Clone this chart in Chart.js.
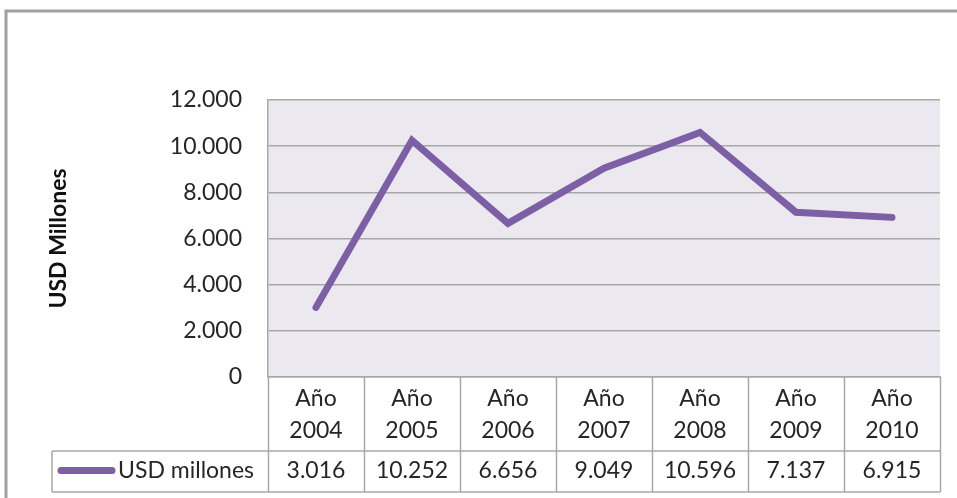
<!DOCTYPE html>
<html>
<head>
<meta charset="utf-8">
<script src="https://cdn.jsdelivr.net/npm/chart.js@4.4.1/dist/chart.umd.min.js"></script>
<style>
  html, body { margin: 0; padding: 0; background: #fff; }
  canvas { display: block; }
</style>
</head>
<body>
<canvas id="c" width="957" height="498"></canvas>
<script>
const categories = [['Año', '2004'], ['Año', '2005'], ['Año', '2006'], ['Año', '2007'], ['Año', '2008'], ['Año', '2009'], ['Año', '2010']];
const seriesName = 'USD millones';
const seriesValues = [3016, 10252, 6656, 9049, 10596, 7137, 6915];
const yTicks = [0, 2000, 4000, 6000, 8000, 10000, 12000];
const yTitle = 'USD Millones';

const FONT = 'Lato, "Open Sans", sans-serif';
const FS = 23;
const TEXT = '#262626';
const LINE = '#7d5fa6';
const GRID = '#a8a8a8';

function fmt(v) {
  return String(v).replace(/\B(?=(\d{3})+(?!\d))/g, '.');
}

const framePlugin = {
  id: 'frame',
  beforeDraw(chart) {
    const ctx = chart.ctx, a = chart.chartArea;
    ctx.save();
    ctx.fillStyle = '#ffffff';
    ctx.fillRect(0, 0, chart.width, chart.height);
    ctx.fillStyle = '#ebe8f0';
    ctx.fillRect(a.left, a.top, a.right - a.left, a.bottom - a.top);
    ctx.strokeStyle = '#a0a0a0';
    ctx.lineWidth = 3;
    ctx.beginPath();
    ctx.moveTo(chart.width + 2, 11);
    ctx.lineTo(6, 11);
    ctx.lineTo(6, chart.height + 2);
    ctx.stroke();
    ctx.restore();
  },
  afterDraw(chart) {
    const ctx = chart.ctx, x = chart.scales.x, a = chart.chartArea;
    const n = chart.data.labels.length;
    const half = (x.getPixelForValue(1) - x.getPixelForValue(0)) / 2;
    const headTop = a.bottom, rowTop = 451, rowBot = 492, legLeft = 52;
    ctx.save();
    ctx.strokeStyle = GRID;
    ctx.lineWidth = 1.5;
    ctx.beginPath();
    for (let i = 0; i <= n; i++) {
      const px = Math.round(x.getPixelForValue(i) - half) + 0.5;
      ctx.moveTo(px, headTop);
      ctx.lineTo(px, rowBot);
    }
    ctx.moveTo(legLeft, rowTop); ctx.lineTo(a.right, rowTop);
    ctx.moveTo(legLeft, rowBot); ctx.lineTo(a.right, rowBot);
    ctx.moveTo(legLeft, rowTop); ctx.lineTo(legLeft, rowBot);
    ctx.stroke();

    const midY = (rowTop + rowBot) / 2 - 1;
    const ds = chart.data.datasets[0];
    // legend key
    ctx.strokeStyle = ds.borderColor;
    ctx.lineWidth = 7;
    ctx.lineCap = 'round';
    ctx.beginPath();
    ctx.moveTo(61, midY);
    ctx.lineTo(112, midY);
    ctx.stroke();
    ctx.fillStyle = TEXT;
    ctx.font = FS + 'px ' + FONT;
    ctx.textBaseline = 'middle';
    ctx.textAlign = 'left';
    ctx.fillText(ds.label, 118, midY);
    ctx.textAlign = 'center';
    ds.data.forEach((v, i) => {
      ctx.fillText(fmt(v), x.getPixelForValue(i), midY);
    });
    ctx.restore();
  }
};

new Chart(document.getElementById('c'), {
  type: 'line',
  data: {
    labels: categories,
    datasets: [{
      label: seriesName,
      data: seriesValues,
      borderColor: LINE,
      backgroundColor: LINE,
      borderWidth: 7,
      pointRadius: 0,
      pointHoverRadius: 0,
      tension: 0,
      borderJoinStyle: 'miter',
      borderCapStyle: 'round',
      fill: false
    }]
  },
  options: {
    responsive: false,
    animation: false,
    events: [],
    layout: { padding: { top: 100, right: 17, bottom: 47, left: 0 } },
    plugins: { legend: { display: false }, tooltip: { enabled: false } },
    scales: {
      x: {
        type: 'category',
        offset: true,
        afterFit(s) { s.height = 74; },
        grid: { display: false },
        border: { display: true, color: GRID, width: 1.5 },
        ticks: {
          color: TEXT,
          padding: -2,
          maxRotation: 0,
          autoSkip: false,
          font: { family: FONT, size: FS, lineHeight: 32 / FS }
        }
      },
      y: {
        min: 0,
        max: 12000,
        afterFit(s) { s.width = 268; },
        afterBuildTicks(s) { s.ticks = yTicks.map(v => ({ value: v })); },
        grid: { color: GRID, lineWidth: 1.5, drawTicks: false },
        border: { display: true, color: GRID, width: 1.5 },
        ticks: {
          color: TEXT,
          padding: 26,
          font: { family: FONT, size: FS },
          callback: v => fmt(v)
        },
        title: {
          display: true,
          text: yTitle,
          color: '#111111',
          padding: { top: 45, bottom: 0 },
          font: { family: FONT, size: FS, weight: 'bold' }
        }
      }
    }
  },
  plugins: [framePlugin]
});
</script>
</body>
</html>
